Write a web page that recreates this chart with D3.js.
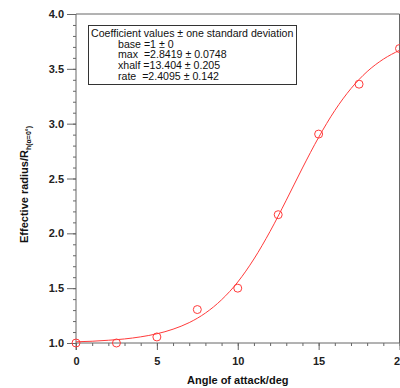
<!DOCTYPE html>
<html>
<head>
<meta charset="utf-8">
<script src="https://cdn.jsdelivr.net/npm/d3@7"></script>
<style>
  body { margin: 0; background: #fff; }
  text { font-family: "Liberation Sans", Arial, sans-serif; }
</style>
</head>
<body>
<div id="chart"></div>
<script>
// measured points
const angles = [0, 2.5, 5, 7.5, 10, 12.5, 15, 17.5, 20];
const radii = [1.0, 1.0, 1.055, 1.305, 1.5, 2.17, 2.905, 3.36, 3.685];

// fitted curve read at each degree
const fitAngles = [0, 1, 2, 3, 4, 5, 6, 7, 8, 9, 10, 11, 12, 13, 14, 15, 16, 17, 18, 19, 20];
const fitRadii = [1.011, 1.016, 1.025, 1.037, 1.056, 1.084, 1.126, 1.186, 1.273, 1.394, 1.556,
  1.766, 2.018, 2.302, 2.596, 2.875, 3.12, 3.32, 3.475, 3.588, 3.669];

const coefLines = [
  'base =1 \u00b1 0',
  'max  =2.8419 \u00b1 0.0748',
  'xhalf =13.404 \u00b1 0.205',
  'rate  =2.4095 \u00b1 0.142'
];

const xTicks = [0, 5, 10, 15, 20];
const yTicks = [1.0, 1.5, 2.0, 2.5, 3.0, 3.5, 4.0];

const width = 400, height = 388;
const margin = {top: 14, right: 0.5, bottom: 45, left: 76};

const svg = d3.select('#chart').append('svg')
  .attr('width', width)
  .attr('height', height);

const x = d3.scaleLinear().domain([0, 20]).range([margin.left, width - margin.right]);
const y = d3.scaleLinear().domain([1, 4]).range([height - margin.bottom, margin.top]);

const axisColor = '#666';

// frame top and right
svg.append('line')
  .attr('x1', x(0)).attr('x2', x(20))
  .attr('y1', y(4)).attr('y2', y(4))
  .attr('stroke', axisColor);
svg.append('line')
  .attr('x1', x(20)).attr('x2', x(20))
  .attr('y1', y(4)).attr('y2', y(1))
  .attr('stroke', axisColor);

// x axis
const xAxis = svg.append('g')
  .attr('transform', `translate(0,${y(1)})`);
xAxis.call(d3.axisBottom(x).ticks(20).tickSize(3).tickFormat(''))
  .call(g => g.select('.domain').remove());
xAxis.append('g')
  .call(d3.axisBottom(x).tickValues(xTicks).tickSize(7).tickPadding(7).tickFormat(d3.format('d')))
  .call(g => g.select('.domain').attr('d', `M${x(0)},0H${x(20)}`));
xAxis.selectAll('line, path').attr('stroke', axisColor);
xAxis.selectAll('text')
  .attr('font-size', 11).attr('font-weight', 'bold').attr('fill', '#222')
  .attr('font-family', '"Liberation Sans", Arial, sans-serif');

// y axis
const yAxis = svg.append('g')
  .attr('transform', `translate(${x(0)},0)`);
yAxis.call(d3.axisLeft(y).ticks(30).tickSize(3).tickFormat(''))
  .call(g => g.select('.domain').remove());
yAxis.append('g')
  .call(d3.axisLeft(y).tickValues(yTicks).tickSize(9).tickPadding(3).tickFormat(d3.format('.1f')))
  .call(g => g.select('.domain').attr('d', `M0,${y(1) + 7}V${y(4)}`));
yAxis.selectAll('line, path').attr('stroke', axisColor);
yAxis.selectAll('text')
  .attr('font-size', 11).attr('font-weight', 'bold').attr('fill', '#222')
  .attr('font-family', '"Liberation Sans", Arial, sans-serif');

// axis titles
svg.append('text')
  .attr('x', (x(0) + x(20)) / 2)
  .attr('y', 384)
  .attr('text-anchor', 'middle')
  .attr('font-size', 11)
  .attr('font-weight', 'bold')
  .attr('fill', '#111')
  .text('Angle of attack/deg');

const yTitle = svg.append('text')
  .attr('transform', `translate(28,${(y(1) + y(4)) / 2 + 6}) rotate(-90)`)
  .attr('text-anchor', 'middle')
  .attr('font-size', 11)
  .attr('font-weight', 'bold')
  .attr('fill', '#111');
yTitle.append('tspan').text('Effective radius/R');
yTitle.append('tspan').attr('font-size', 7).attr('dy', 3).text('h(\u03b1=0\u00b0)');

// fit curve
const line = d3.line()
  .x((d, i) => x(fitAngles[i]))
  .y(d => y(d))
  .curve(d3.curveMonotoneX);

svg.append('path')
  .datum(fitRadii)
  .attr('d', line)
  .attr('fill', 'none')
  .attr('stroke', '#ff3b3b')
  .attr('stroke-width', 1);

// points
svg.selectAll('circle.pt')
  .data(radii)
  .enter()
  .append('circle')
  .attr('class', 'pt')
  .attr('cx', (d, i) => x(angles[i]))
  .attr('cy', d => y(d))
  .attr('r', 4)
  .attr('fill', 'none')
  .attr('stroke', '#ff3b3b')
  .attr('stroke-width', 1);

// coefficient box
const box = svg.append('g');
box.append('rect')
  .attr('x', 88.5).attr('y', 25.5)
  .attr('width', 208).attr('height', 59)
  .attr('fill', '#fff')
  .attr('stroke', '#333');
box.append('text')
  .attr('x', 91).attr('y', 37)
  .attr('font-size', 10.6)
  .attr('fill', '#111')
  .text('Coefficient values \u00b1 one standard deviation');
box.selectAll('text.coef')
  .data(coefLines)
  .enter()
  .append('text')
  .attr('class', 'coef')
  .attr('x', 118)
  .attr('y', (d, i) => 47.5 + i * 10.8)
  .attr('font-size', 10.6)
  .attr('fill', '#111')
  .style('white-space', 'pre')
  .text(d => d);
</script>
</body>
</html>
